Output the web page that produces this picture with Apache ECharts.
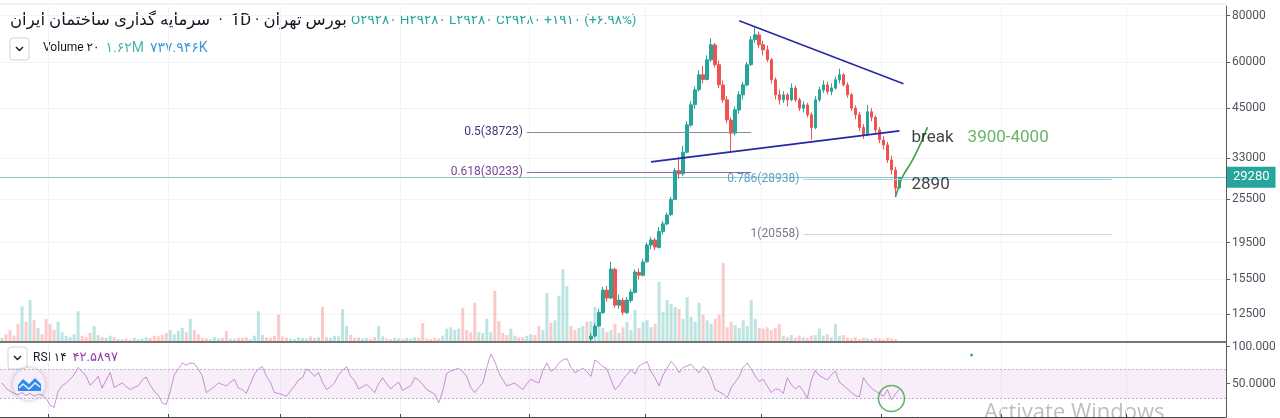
<!DOCTYPE html>
<html>
<head>
<meta charset="utf-8">
<script src="https://cdn.jsdelivr.net/npm/echarts@6/dist/echarts.min.js"></script>
<style>
html,body{margin:0;padding:0;background:#fff;}
#main{width:1280px;height:418px;}
</style>
</head>
<body>
<div id="main"></div>
<script>
// روزها (محور زمان) - فقط اندیس
var days = [];
for (var d = 0; d < 306; d++) days.push(d);

// کندل‌ها [open, close, low, high] از اندیس 147
var candleStart = 147;
var candles = [
    [10700,10880,10500,11100],[10900,11580,10800,11800],[11600,12630,11500,12900],[12600,14510,12500,14800],
    [14500,13810,13500,14900],[13800,16530,13700,17300],[16500,13210,13000,16700],[13200,13630,12900,14100],
    [13600,12640,12400,13800],[12600,13630,12500,13900],[13600,14330,13400,14600],[14300,16230,14200,16500],
    [16200,15920,15500,16600],[15900,17280,15800,17600],[17300,19200,17200,19500],[19200,19820,18700,20200],
    [19800,18960,18600,20100],[18900,20880,18800,21500],[20900,21910,20500,22300],[21900,23150,21700,23500],
    [23200,25500,23000,25900],[25500,30500,25400,31000],[30500,29900,29000,33200],[29900,34200,29500,35600],
    [34200,40570,34000,41500],[40500,45950,40000,47000],[46000,50450,44800,51500],[50500,55400,49800,57000],
    [55400,53800,52500,58500],[53800,60830,53500,62500],[60800,66780,60000,69500],[66700,58960,58000,67500],
    [59000,52040,51000,60500],[52000,47400,46500,53500],[47400,41850,41000,48500],[41800,38500,34400,42500],
    [38500,44540,38000,45500],[44500,48900,43500,50000],[48900,52040,47500,53000],[52000,58960,51500,60000],
    [59000,68900,58500,70500],[68900,71060,67500,75000],[71000,66780,65500,72500],[66800,64700,62500,68500],
    [64700,60830,60000,66500],[60800,53700,52500,61500],[53700,48900,47500,54500],[48900,47400,46000,50500],
    [47400,48900,46500,50000],[48900,47400,45500,49500],[47400,51050,47000,52500],[51000,47400,46800,51800],
    [47400,45000,44200,48000],[45000,45950,43800,47000],[45900,43170,42500,46500],[43200,39900,36950,43800],
    [39900,47400,39500,48500],[47400,50450,46800,51500],[50400,52040,49500,53500],[52000,49900,49000,53000],
    [49900,51050,48800,52500],[51000,53700,50500,54800],[53700,55400,52500,57500],[55400,52040,51500,56000],
    [52000,48900,48000,52800],[48900,45000,44200,49500],[45000,43170,42000,45800],[43200,39900,39000,44000],
    [39900,38120,37200,40800],[38100,44000,37800,45950],[44000,42500,41500,45000],[42500,39300,38500,43000],
    [39300,36950,36200,40000],[36900,35800,34800,37800],[35800,32620,32000,36500],[32600,30650,29800,33500],
    [30600,27370,25900,31200],[27370,29280,27370,29280]
];

// حجم (میلیون)
var volumes = [
    6,11,17,9,26,51,29,60,31,20, 11,33,26,17,29,14,9,7,11,44,
    9,7,13,23,10,7,6,9,7,4, 4,5,3,6,4,5,7,6,9,8,
    10,13,17,11,16,20,14,33,17,11, 6,5,4,7,5,6,16,5,4,6,
    6,7,4,9,44,10,7,6,9,39, 8,6,5,4,7,6,5,8,6,7,
    50,7,6,9,8,47,23,10,6,7, 5,6,4,7,23,8,5,4,6,5,
    4,6,5,7,6,27,5,4,6,5, 9,19,21,17,19,49,17,14,56,14,
    13,33,14,73,30,13,10,19,9,7, 7,9,11,10,23,17,70,27,31,66,
    104,80,23,17,20,23,29,30,50,21, 20,14,17,26,13,21,29,17,46,20,
    29,31,21,26,86,43,60,54,50,47, 33,64,36,29,56,39,31,26,33,39,
    113,21,29,24,20,31,23,60,33,20, 19,21,17,20,26,9,7,10,6,9,
    7,6,9,10,19,9,11,7,26,9, 10,6,5,7,4,6,5,4,6,5,
    4,6,5,4,1.62
];

// RSI 14
var rsi = [
    51,44,40,37,35,38,34,37,33,36, 35,30,21,18,40,47,51,56,62,72,
    66,60,48,53,60,44,55,65,45,48, 51,46,42,45,47,55,59,48,40,34,
    24,22,40,62,70,78,75,78,77,70, 60,38,42,46,51,49,47,52,56,44,
    42,37,50,63,70,73,60,52,38,37, 35,33,40,47,55,58,70,66,60,65,
    52,42,46,51,62,68,73,60,54,43, 46,49,44,38,50,58,50,43,48,52,
    41,44,47,58,55,49,42,39,36,24, 40,64,67,69,71,66,60,45,38,45,
    51,72,90,80,65,55,47,49,51,46, 42,50,56,53,51,68,78,67,70,78,
    82,84,72,65,68,71,66,60,82,78, 73,70,55,42,47,56,62,69,63,74,
    77,80,66,58,47,62,71,80,74,65, 72,74,76,70,65,73,69,58,42,39,
    36,31,45,52,60,72,78,70,60,53, 56,47,38,43,42,37,58,49,43,47,
    40,30,55,68,61,58,55,62,67,52, 48,43,38,34,32,58,50,44,40,37,
    33,42,28,36,42.5897
];

var priceTicks = [12500, 15500, 19500, 25500, 33000, 45000, 60000, 80000];
var rsiTicks = [50, 100];
var monthTicks = [12, 42, 70, 100, 132, 161, 190, 220, 250, 281];

// فیبوناچی
var fibLabels = ['0.5(38723)', '0.618(30233)', '0.786(28938)', '1(20558)'];
var fibValues = [38723, 30233, 28938, 20558];
var fibFrom = [131, 131, 200, 200];
var fibTo = [187, 187, 277, 277];
var lastPrice = 29280;

// خطوط روند و منحنی
var upperTrend = [[184, 77550], [225, 52370]];
var lowerTrend = [[162, 32210], [224, 39080]];
var greenPath = [[223, 25900], [224, 28000], [225, 29700], [227, 32200], [229, 35600], [231, 40000]];
var notes = [['break', 227, 37400], ['3900-4000', 241, 37400], ['2890', 227, 27900]];
var rsiCircle = [222, 30];
var rsiDot = [242, 88.7];

var UP = '#26a69a', DOWN = '#ef5350';
var FONT = 'Roboto, "DejaVu Sans", sans-serif';

var candleData = candles.map(function (c, k) { return [candleStart + k].concat(c); });

var volData = volumes.map(function (v, i) {
    var up;
    var k = i - candleStart;
    if (k >= 0 && k < candles.length) up = candles[k][1] >= candles[k][0];
    else up = i === 0 || rsi[i] >= rsi[i - 1];
    return { value: v, itemStyle: { color: up ? 'rgba(38,166,154,0.3)' : 'rgba(239,83,80,0.3)' } };
});

var fibColors = ['#8a8d99', '#8a6aa3', '#a9cfe0', '#d1d4dc'];
var fibTextColors = ['#3b3b7a', '#7a4596', '#5a9fc4', '#777a85'];
var fibLines = fibValues.map(function (v, k) {
    return [
        { coord: [fibFrom[k], v], lineStyle: { color: fibColors[k], width: 1, type: 'solid' },
          label: { show: true, position: 'start', formatter: fibLabels[k], color: fibTextColors[k], fontSize: 12, fontFamily: FONT, distance: 4 } },
        { coord: [fibTo[k], v] }
    ];
});
fibLines.push({ yAxis: lastPrice, lineStyle: { color: 'rgba(38,166,154,0.55)', width: 1, type: 'solid' },
    label: { show: true, position: 'end', formatter: String(lastPrice), color: '#fff', backgroundColor: UP,
             padding: [4, 6], fontSize: 13, fontFamily: FONT, distance: 1 } });

function monthInterval(idx) { return monthTicks.indexOf(idx) >= 0; }

var headRich = {
    t: { fontSize: 16.5, fontFamily: FONT, fill: '#131722' },
    p: { fontSize: 13.5, fontFamily: FONT, fill: '#26a69a' },
    k: { fontSize: 12, fontFamily: FONT, fill: '#131722' },
    g: { fontSize: 14, fontFamily: FONT, fill: '#4db6ac' },
    b: { fontSize: 14, fontFamily: FONT, fill: '#3d9bd8' },
    r: { fontSize: 13, fontFamily: FONT, fill: '#8e3ea5' }
};

var option = {
    animation: false,
    backgroundColor: '#fff',
    grid: [
        { left: 0, right: 54, top: 6, height: 336 },
        { left: 0, right: 54, top: 230, height: 112 },
        { left: 0, right: 54, top: 343, height: 74 }
    ],
    xAxis: [
        { type: 'category', data: days, gridIndex: 0, boundaryGap: true,
          axisLine: { show: true, lineStyle: { color: '#4a4a4a', width: 1.5 } },
          axisTick: { show: false }, axisLabel: { show: false },
          splitLine: { show: true, interval: monthInterval, lineStyle: { color: '#f1f3f7' } } },
        { type: 'category', data: days, gridIndex: 1, show: false },
        { type: 'category', data: days, gridIndex: 2, boundaryGap: true,
          axisLine: { show: true, lineStyle: { color: '#4a4a4a' } },
          axisTick: { show: true, interval: monthInterval, length: 3, inside: true, lineStyle: { color: '#4a4a4a' } },
          axisLabel: { show: false },
          splitLine: { show: true, interval: monthInterval, lineStyle: { color: '#f1f3f7' } } }
    ],
    yAxis: [
        { type: 'log', logBase: 10, gridIndex: 0, position: 'right', min: 10500, max: 85000,
          axisLine: { show: true, lineStyle: { color: '#5a5a5a' } },
          axisTick: { show: true, length: 4, customValues: priceTicks, lineStyle: { color: '#5a5a5a' } },
          axisLabel: { customValues: priceTicks, color: '#50535e', fontSize: 12, fontFamily: FONT, margin: 6,
                       formatter: function (v) { return String(Math.round(v)); } },
          splitLine: { show: true, lineStyle: { color: '#f1f3f7' } } },
        { type: 'value', gridIndex: 1, min: 0, max: 160, show: false },
        { type: 'value', gridIndex: 2, position: 'right', min: 5, max: 105,
          axisLine: { show: true, lineStyle: { color: '#5a5a5a' } },
          axisTick: { show: true, length: 4, customValues: rsiTicks, lineStyle: { color: '#5a5a5a' } },
          axisLabel: { customValues: rsiTicks, color: '#50535e', fontSize: 12, fontFamily: FONT, margin: 6,
                       formatter: function (v) { return Number(v).toPrecision(6); } },
          splitLine: { show: false } }
    ],
    series: [
        { type: 'bar', xAxisIndex: 1, yAxisIndex: 1, data: volData, barWidth: 3, z: 1 },
        { type: 'candlestick', xAxisIndex: 0, yAxisIndex: 0, data: candleData,
          encode: { x: 0, y: [1, 2, 3, 4] }, barWidth: 3, z: 3,
          itemStyle: { color: UP, color0: DOWN, borderColor: UP, borderColor0: DOWN, borderWidth: 1 },
          markLine: { symbol: ['none', 'none'], silent: true, data: fibLines } },
        { type: 'line', xAxisIndex: 0, yAxisIndex: 0, data: upperTrend, symbol: 'none', z: 4,
          lineStyle: { color: '#2727a8', width: 1.6 } },
        { type: 'line', xAxisIndex: 0, yAxisIndex: 0, data: lowerTrend, symbol: 'none', z: 4,
          lineStyle: { color: '#2727a8', width: 1.6 } },
        { type: 'line', xAxisIndex: 0, yAxisIndex: 0, data: greenPath, symbol: 'none', smooth: 0.35, z: 4,
          lineStyle: { color: '#3f9f45', width: 1.6 } },
        { type: 'scatter', xAxisIndex: 0, yAxisIndex: 0, symbolSize: 0, z: 5,
          data: notes.map(function (n, k) {
              return { value: [n[1], n[2]], label: { show: true, position: 'right', distance: 0, formatter: n[0],
                       fontSize: 17, fontFamily: 'Roboto, sans-serif', color: k === 1 ? '#43a047' : '#111' } };
          }) },
        { type: 'line', xAxisIndex: 2, yAxisIndex: 2, data: rsi, symbol: 'none', z: 3,
          lineStyle: { color: 'rgba(156,39,176,0.5)', width: 1 },
          markArea: { silent: true, itemStyle: { color: 'rgba(156,39,176,0.08)' }, data: [[{ yAxis: 30 }, { yAxis: 70 }]] },
          markLine: { symbol: ['none', 'none'], silent: true, label: { show: false },
                      lineStyle: { color: '#b6b6c2', type: [2, 2], width: 1 }, data: [{ yAxis: 70 }, { yAxis: 30 }] } },
        { type: 'scatter', xAxisIndex: 2, yAxisIndex: 2, z: 5, data: [rsiCircle], symbolSize: 26,
          itemStyle: { color: 'rgba(0,0,0,0)', borderColor: '#3f9f45', borderWidth: 1.6 } },
        { type: 'scatter', xAxisIndex: 2, yAxisIndex: 2, z: 5, data: [rsiDot], symbolSize: 3,
          itemStyle: { color: '#1f8f6a' } }
    ],
    graphic: [
        { type: 'line', shape: { x1: 0, y1: 4, x2: 1226, y2: 4 }, style: { stroke: '#e0e3eb', lineWidth: 1 } },
        { type: 'text', left: 10, top: 12, style: {
            text: '{t|سرمایه گذاری ساختمان ایران}{t|  ·  }{t|1D}{t| · }{t|بورس تهران}{t| }{p|O۲۹۲۸۰ H۲۹۲۸۰ L۲۹۲۸۰ C۲۹۲۸۰ +۱۹۱۰ (+۶.۹۸%)}',
            rich: headRich } },
        { type: 'rect', shape: { x: 10, y: 38, width: 19, height: 22, r: 3 }, style: { fill: '#fff', stroke: '#d1d4dc' } },
        { type: 'polyline', shape: { points: [[16, 47], [19.5, 50.5], [23, 47]] }, style: { stroke: '#131722', lineWidth: 1.4, fill: null } },
        { type: 'text', left: 43, top: 41, style: {
            text: '{k|Volume ۲۰}{k|  }{g|۱.۶۲M}{k|  }{b|۷۳۷.۹۴۶K}', rich: headRich } },
        { type: 'rect', shape: { x: 8, y: 347, width: 19, height: 22, r: 3 }, style: { fill: '#fff', stroke: '#d1d4dc' } },
        { type: 'polyline', shape: { points: [[14, 356], [17.5, 359.5], [21, 356]] }, style: { stroke: '#131722', lineWidth: 1.4, fill: null } },
        { type: 'text', left: 33, top: 351, style: {
            text: '{k|RSI ۱۴}{k|  }{r|۴۲.۵۸۹۷}', rich: headRich } },
        { type: 'circle', shape: { cx: 29, cy: 384, r: 16 }, style: { fill: '#fff', shadowBlur: 5, shadowColor: 'rgba(0,0,0,0.25)' } },
        { type: 'polygon', shape: { points: [[18, 391], [18, 385], [23, 379], [29, 384], [35, 378], [41, 384], [41, 391]] },
          style: { fill: '#2196f3' } },
        { type: 'polyline', shape: { points: [[19, 388], [23, 384], [29, 389], [35, 383], [40, 387]] },
          style: { stroke: '#fff', lineWidth: 1.5, fill: null } },
        { type: 'text', left: 984, top: 402, style: { text: 'Activate Windows', font: '22px "Open Sans", sans-serif', fill: 'rgba(110,110,110,0.45)' } }
    ]
};

var myChart = echarts.init(document.getElementById('main'));
myChart.setOption(option);
</script>
</body>
</html>
